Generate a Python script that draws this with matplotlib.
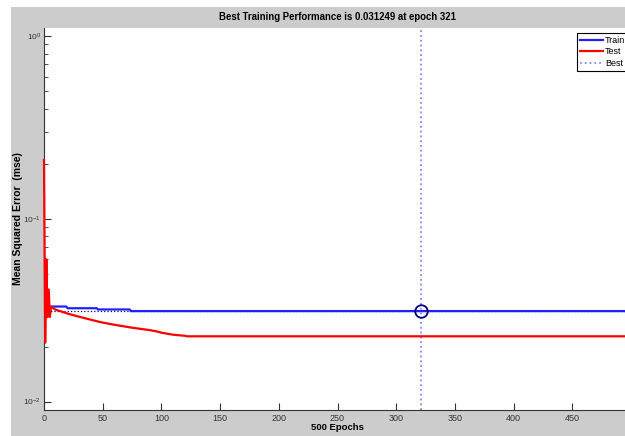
import matplotlib
matplotlib.use("Agg")
import matplotlib.pyplot as plt
from matplotlib.patches import Rectangle

# values
best_epoch = 321
best_perf = 0.031249

train_epochs = [0, 1, 2, 3, 4, 5, 19, 20, 45, 46, 73, 74, 500]
train_mse = [0.0330, 0.0331, 0.0375, 0.0320, 0.0332, 0.0331, 0.0331,
             0.0324, 0.0324, 0.0319, 0.0319, best_perf, best_perf]

test_epochs = [0, 1, 2, 3, 4, 5, 6, 10, 20, 30, 48, 60, 76, 90, 96,
               100, 110, 120, 122, 500]
test_mse = [0.210, 0.021, 0.060, 0.029, 0.041, 0.029, 0.033, 0.0318,
            0.0303, 0.0291, 0.0272, 0.0263, 0.0253, 0.0246, 0.0242,
            0.0238, 0.0232, 0.0229, 0.02275, 0.02275]

xticks = [0, 50, 100, 150, 200, 250, 300, 350, 400, 450]

plt.rcParams['font.family'] = ['Liberation Sans', 'DejaVu Sans']

fig = plt.figure(figsize=(6.25, 4.36), dpi=100)
fig.patch.set_facecolor('white')
fig.patches.append(Rectangle((11 / 625, 0), 1, 1 - 7 / 436, transform=fig.transFigure,
                             facecolor='#cccccc', edgecolor='none', zorder=-5))

ax = fig.add_axes([44 / 625, 1 - 410 / 436, 587 / 625, 382 / 436])
ax.set_facecolor('white')

ax.plot(train_epochs, train_mse, color='#2020ff', lw=1.6, label='Train', zorder=3)
ax.plot(test_epochs, test_mse, color='red', lw=1.6, label='Test', zorder=3, clip_on=False)
ax.axvline(best_epoch, color='#8888ee', ls=':', lw=1.3, label='Best')
ax.axhline(best_perf, color='#000080', ls=':', lw=0.9)
ax.plot([best_epoch], [best_perf], 'o', mfc='none', mec='#000080', ms=9, mew=1.3, zorder=4)

ax.set_yscale('log')
ax.set_xlim(0, 500)
ax.set_ylim(0.00899, 1.106)
ax.set_xticks(xticks)
ax.tick_params(axis='both', which='both', direction='in', labelsize=6.5, colors='#333333')
ax.tick_params(which='major', length=5)
ax.tick_params(which='minor', length=3)
ax.tick_params(axis='x', pad=3)
ax.tick_params(axis='y', pad=2, labelsize=6)
ax.spines['top'].set_visible(False)
ax.spines['right'].set_visible(False)
for s in ['left', 'bottom']:
    ax.spines[s].set_color('#333333')

ax.set_title('Best Training Performance is 0.031249 at epoch 321',
             fontsize=6.9, fontweight='bold', pad=6)
ax.set_xlabel('500 Epochs', fontsize=6.8, fontweight='bold', labelpad=0)
ax.set_ylabel('Mean Squared Error  (mse)', fontsize=7.5, fontweight='bold')
ax.yaxis.set_label_coords(-21 / 587, 0.5)

leg = ax.legend(loc='upper left', bbox_to_anchor=(577 / 625, 1 - 33 / 436),
                bbox_transform=fig.transFigure, fontsize=6.5, fancybox=False,
                framealpha=1, edgecolor='black', handlelength=2.6,
                borderpad=0.3, labelspacing=0.3, handletextpad=0.2, borderaxespad=0)
leg.get_frame().set_linewidth(0.8)

fig.savefig('out.png', dpi=100)
